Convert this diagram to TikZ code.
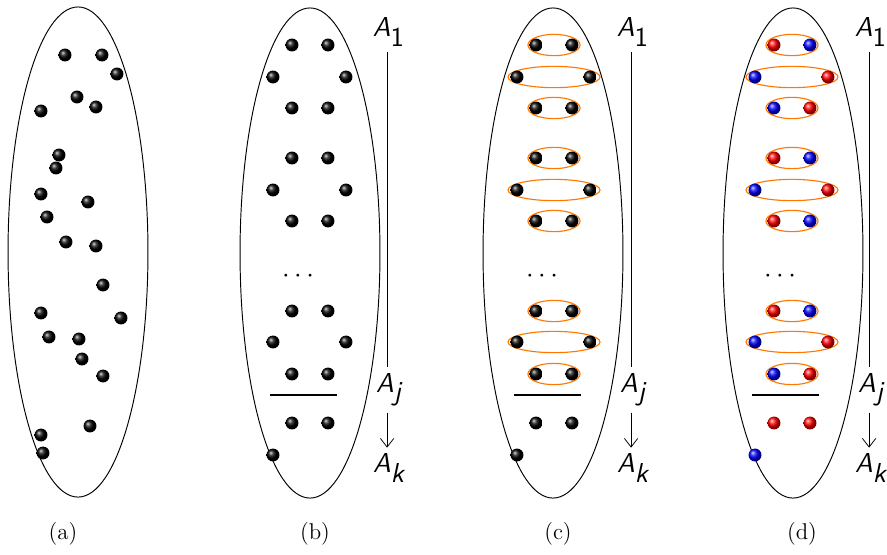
\documentclass[tikz,border=0pt]{standalone}
\usetikzlibrary{arrows.meta}
\begin{document}
\begin{tikzpicture}[x=0.526pt,y=-0.526pt,
  sph/.style={circle,inner sep=0pt,minimum size=6.8pt,shading=ball,ball color=#1},
  sph/.default=black,
  setline/.style={line width=0.5pt},
  ring/.style={draw=orange!95!red,line width=0.6pt},
  lab/.style={font=\Large,inner sep=3pt},
  captxt/.style={font=\large},
  sepline/.style={line width=0.6pt}]
\useasboundingbox (0,0) rectangle (887,554);
\newcommand\Al[1]{$\textsf{\slshape A}_{\textsf{#1}}$}
% ---------- (a)
\draw[setline] (78,252) ellipse [x radius=36.8pt,y radius=128.9pt];
\foreach \x/\y [count=\i] in {65/55,102/55,117/74,77/97,96/107,41/111,59/155,56/168,41/194,88/202,47/217,66/242,96/246,103/285,41/313,121/318,49/337,79/339,82/359,103/376,90/426,41/435,43/453}
  \node[sph] (a\i) at (\x,\y) {};
\node[captxt] (capa) at (63,534) {(a)};
% ---------- (b), (c), (d)
\foreach \dx/\p/\ex in {0/b/310,244/c/553,482/d/793}{
  \draw[setline] (\ex,253) ellipse [x radius=36.8pt,y radius=128.9pt];
  \draw[sepline] (270+\dx,395) -- (337+\dx,395);
  \node[font=\Large] (\p dots) at (298+\dx,276) {$\cdots$};
  \node[lab] (\p A1) at (389+\dx,32) {\Al{1}};
  \node[lab] (\p Aj) at (389+\dx,390) {\Al{\slshape j}};
  \node[lab] (\p Ak) at (389+\dx,468) {\Al{\slshape k}};
  \draw[line width=0.4pt] ([xshift=-1pt]\p A1.south) -- ([xshift=-1pt]\p Aj.north);
  \draw[line width=0.4pt,-{Straight Barb[length=4.5pt,width=7pt]}] ([xshift=-1pt]\p Aj.south) -- ([xshift=-1pt]\p Ak.north);
}
% rings in (c) and (d)
\foreach \dx in {244,482}{
  \foreach \y/\r in {45/13.7pt,77/24.2pt,108/13.7pt,158/13.7pt,190/24.2pt,221/13.7pt,311/13.7pt,342/24.2pt,374/13.7pt}
    \draw[ring] (310+\dx,\y) ellipse [x radius=\r,y radius=5.6pt];
}
% balls (b) and (c)
\foreach \dx/\p in {0/b,244/c}{
  \foreach \y/\xl/\xr [count=\i] in {45/292/328,77/273/346,108/292/328,158/292/328,190/273/346,221/292/328,311/292/328,342/273/346,374/292/328,423/292/328}{
    \node[sph] (\p\i-l) at (\xl+\dx,\y) {};
    \node[sph] (\p\i-r) at (\xr+\dx,\y) {};
  }
  \node[sph] (\p last) at (273+\dx,455) {};
}
% balls (d)
\foreach \y/\xl/\xr/\cl/\cr [count=\i] in {45/292/328/red/blue,77/273/346/blue/red,108/292/328/blue/red,158/292/328/red/blue,190/273/346/blue/red,221/292/328/red/blue,311/292/328/red/blue,342/273/346/blue/red,374/292/328/blue/red,423/292/328/red/red}{
  \node[sph=\cl] (d\i-l) at (\xl+482,\y) {};
  \node[sph=\cr] (d\i-r) at (\xr+482,\y) {};
}
\node[sph=blue] (dlast) at (755,455) {};
\node[captxt] (capb) at (315,534) {(b)};
\node[captxt] (capc) at (558,534) {(c)};
\node[captxt] (capd) at (802,534) {(d)};
\end{tikzpicture}
\end{document}
